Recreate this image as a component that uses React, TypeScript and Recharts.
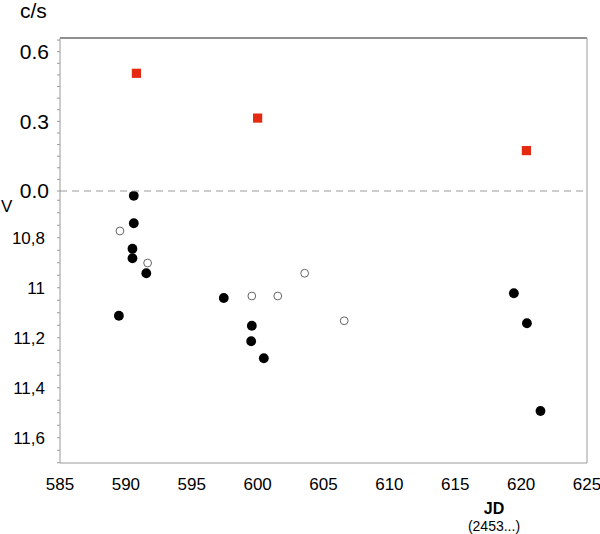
import { ScatterChart, Scatter, XAxis, YAxis, ReferenceLine } from 'recharts';

// count rate (c/s), upper panel
const csJD = [590.8, 600.0, 620.4];
const csRate = [0.507, 0.314, 0.174];

// V magnitudes, filled dots
const vJD = [590.6, 590.6, 590.5, 590.5, 591.55, 589.47, 597.43, 599.56, 599.51, 600.47, 619.45, 620.44, 621.47];
const vMag = [10.632, 10.742, 10.844, 10.882, 10.942, 11.112, 11.041, 11.152, 11.214, 11.282, 11.022, 11.142, 11.493];

// V magnitudes, open circles
const vOpenJD = [589.55, 591.65, 599.56, 601.53, 603.57, 606.57];
const vOpenMag = [10.773, 10.901, 11.033, 11.033, 10.942, 11.132];

const jdTicks = [585, 590, 595, 600, 605, 610, 615, 620, 625];
const csLabels = [0, 0.3, 0.6];
const vLabels = [10.8, 11, 11.2, 11.4, 11.6];

const csData = csJD.map((x, i) => ({ x, y: csRate[i] }));
const vData = vJD.map((x, i) => ({ x, y: vMag[i] }));
const vOpenData = vOpenJD.map((x, i) => ({ x, y: vOpenMag[i] }));

const steps = (from: number, to: number, step: number) => {
  const out: number[] = [];
  for (let v = from; v <= to + 1e-9; v += step) out.push(Math.round(v * 100) / 100);
  return out;
};
const jdMinor = steps(585, 625, 1);
const csMinor = steps(0, 0.65, 0.05);
const vMinor = steps(10.65, 11.7, 0.05);

const FONT = '"Liberation Sans", Arial, Helvetica, sans-serif';
const AXIS = '#9a9a9a';

const isLabel = (v: number, list: number[]) => list.some((l) => Math.abs(l - v) < 1e-6);
const blank = () => '';

const Square = (p: any) => <rect x={p.cx - 4.6} y={p.cy - 4.6} width={9.2} height={9.2} fill="#e52a12" />;
const Dot = (p: any) => <circle cx={p.cx} cy={p.cy} r={4.9} fill="#000" />;
const Ring = (p: any) => <circle cx={p.cx} cy={p.cy} r={3.9} fill="#fff" stroke="#666" strokeWidth={1} />;

export default function App() {
  return (
    <div style={{ position: 'absolute', left: 0, top: 0, width: 600, height: 534, background: '#fff', fontFamily: FONT }}>
      <div style={{ position: 'absolute', left: 0, top: 191 }}>
        <ScatterChart width={600} height={343} margin={{ top: 0, right: 13, bottom: 0, left: 0 }}>
          <XAxis
            xAxisId="x"
            dataKey="x"
            type="number"
            domain={[585, 625]}
            ticks={jdTicks}
            interval={0}
            allowDataOverflow
            height={71}
            tickLine={false}
            tickSize={0}
            tickMargin={15}
            axisLine={{ stroke: AXIS }}
            tick={{ fontSize: 17, fill: '#000', fontFamily: FONT }}
          />
          <XAxis
            xAxisId="m"
            type="number"
            domain={[585, 625]}
            ticks={jdMinor}
            interval={0}
            mirror
            height={1}
            tickFormatter={blank}
            tickSize={3}
            axisLine={false}
            tickLine={{ stroke: AXIS }}
          />
          <YAxis
            yAxisId="l"
            dataKey="y"
            type="number"
            domain={[10.613, 11.701]}
            reversed
            allowDataOverflow
            ticks={vMinor}
            interval={0}
            width={60}
            tickSize={3}
            tickMargin={12}
            axisLine={{ stroke: AXIS }}
            tickLine={{ stroke: AXIS }}
            tick={{ fontSize: 17, fill: '#000', fontFamily: FONT }}
            tickFormatter={(v: number) =>
              isLabel(v, vLabels) ? (Math.abs(v - 11) < 1e-6 ? '11' : v.toFixed(1).replace('.', ',')) : ''
            }
          />
          <YAxis
            yAxisId="r"
            type="number"
            orientation="right"
            mirror
            width={1}
            domain={[10.613, 11.701]}
            reversed
            ticks={vMinor}
            interval={0}
            tickFormatter={blank}
            tickSize={3}
            axisLine={{ stroke: AXIS }}
            tickLine={{ stroke: AXIS }}
          />
          <Scatter xAxisId="x" yAxisId="l" data={vOpenData} shape={Ring} isAnimationActive={false} />
          <Scatter xAxisId="x" yAxisId="l" data={vData} shape={Dot} isAnimationActive={false} />
        </ScatterChart>
      </div>
      <div style={{ position: 'absolute', left: 0, top: 0 }}>
        <ScatterChart width={600} height={230} margin={{ top: 38, right: 13, bottom: 39, left: 0 }}>
          <XAxis xAxisId="x" dataKey="x" type="number" domain={[585, 625]} allowDataOverflow hide />
          <XAxis
            xAxisId="b"
            type="number"
            orientation="top"
            mirror
            domain={[585, 625]}
            height={1}
            tickFormatter={blank}
            tickLine={false}
            axisLine={{ stroke: '#222', strokeWidth: 1.2 }}
          />
          <YAxis
            yAxisId="l"
            dataKey="y"
            type="number"
            domain={[0, 0.659]}
            allowDataOverflow
            ticks={csMinor}
            interval={0}
            width={60}
            tickSize={3}
            tickMargin={8}
            axisLine={{ stroke: AXIS }}
            tickLine={{ stroke: AXIS }}
            tick={{ fontSize: 21, fill: '#000', fontFamily: FONT }}
            tickFormatter={(v: number) => (isLabel(v, csLabels) ? v.toFixed(1) : '')}
          />
          <YAxis
            yAxisId="r"
            type="number"
            orientation="right"
            mirror
            width={1}
            domain={[0, 0.659]}
            ticks={csMinor}
            interval={0}
            tickFormatter={blank}
            tickSize={3}
            axisLine={{ stroke: AXIS }}
            tickLine={{ stroke: AXIS }}
          />
          <ReferenceLine xAxisId="x" yAxisId="l" y={0} stroke="#999" strokeDasharray="7 5" />
          <Scatter xAxisId="x" yAxisId="l" data={csData} shape={Square} isAnimationActive={false} />
        </ScatterChart>
      </div>
      <div style={{ position: 'absolute', left: 20, top: -1, fontSize: 21, lineHeight: '24px' }}>c/s</div>
      <div style={{ position: 'absolute', left: 1, top: 197, fontSize: 17, lineHeight: '20px' }}>V</div>
      <div style={{ position: 'absolute', left: 444, top: 501, width: 100, textAlign: 'center', fontSize: 16, fontWeight: 'bold', lineHeight: '16px' }}>JD</div>
      <div style={{ position: 'absolute', left: 444, top: 519, width: 100, textAlign: 'center', fontSize: 14, lineHeight: '14px' }}>(2453...)</div>
    </div>
  );
}
